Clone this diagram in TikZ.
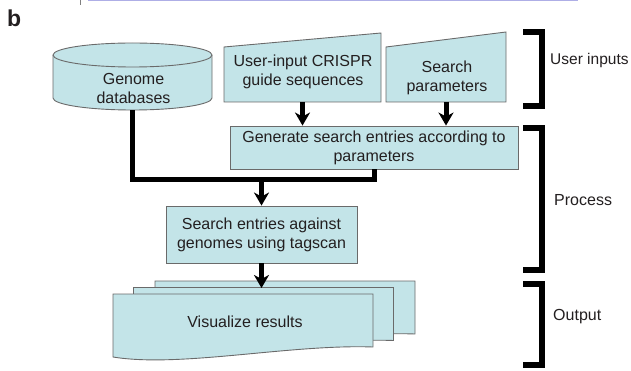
\documentclass[tikz,border=0pt]{standalone}
\usepackage{fontspec}
\setmainfont{Liberation Sans}
\usetikzlibrary{arrows.meta}
\definecolor{boxfill}{HTML}{C3E4E8}
\definecolor{boxline}{HTML}{6A6A6A}
\definecolor{txtc}{HTML}{231F20}
\definecolor{lav}{HTML}{AEAEE6}
\begin{document}
\begin{tikzpicture}[x=1pt,y=-1pt,
  box/.style={fill=boxfill, draw=boxline, line width=0.9pt},
  lbl/.style={font=\fontsize{16}{19}\selectfont, text=txtc, align=center, inner sep=0pt},
  conn/.style={line width=5pt, draw=black, line join=miter},
  arr/.style={conn, -{Stealth[length=13pt, width=15pt, inset=4pt]}},
  brk/.style={line width=6pt, draw=black, line join=miter}]
\useasboundingbox (0,0) rectangle (631,371);

% fragments of the panel above
\draw[gray, line width=1pt] (80,0) -- (80,5);
\draw[lav, line width=1.5pt] (88,0.5) -- (578,0.5);

% panel label
\node[anchor=base west, inner sep=0pt, font=\fontsize{23}{23}\selectfont\bfseries, text=txtc] (pl) at (7,26.7) {b};

% cylinder: Genome databases
\filldraw[box] (53,55) -- (53,98) arc[start angle=180, end angle=360, x radius=79.5pt, y radius=12pt]
  -- (212,55) arc[start angle=0, end angle=180, x radius=79.5pt, y radius=12pt] -- cycle;
\draw[draw=boxline, line width=0.9pt] (212,55) arc[start angle=0, end angle=-180, x radius=79.5pt, y radius=12pt];
\node[minimum width=159pt, minimum height=67pt, inner sep=0pt] (gdb) at (132.5,76.5) {};
\node[lbl] (gdbt) at (133.5,88) {Genome\\databases};

% manual inputs
\filldraw[box] (224,47) -- (381,33) -- (381,102) -- (224,102) -- cycle;
\node[lbl] (uin) at (303,71.4) {User-input CRISPR\\guide sequences};
\coordinate (uinB) at (302.5,102);
\filldraw[box] (386,47) -- (506,32) -- (506,102) -- (386,102) -- cycle;
\node[lbl] (spar) at (447,77.5) {Search\\parameters};
\coordinate (sparB) at (446,102);

% process boxes
\node[box, lbl, minimum width=288pt, minimum height=43pt] (gen) at (374,147.5) {Generate search entries according to\\parameters};
\node[box, lbl, minimum width=191pt, minimum height=57pt] (search) at (261.5,234.5) {Search entries against\\genomes using tagscan};

% stacked documents
\foreach \dx/\dy in {42/-13, 20.5/-6.5, 0/0} {
  \filldraw[box, shift={(\dx,\dy)}] (113,294) -- (373,294) -- (373,347)
    .. controls (290,344) and (180,368) .. (113,357) -- cycle;
}
\node[lbl] (vis) at (245,322) {Visualize results};
\coordinate (docTop) at (261.5,288);

% connectors
\coordinate (jl) at (132.5,180);
\coordinate (jr) at (374,180);
\draw[conn] (gdb.south) -- (jl) -- (jr) -- (gen.south);
\draw[arr] (uinB) -- (uinB |- gen.north);
\draw[arr] (sparB) -- (sparB |- gen.north);
\draw[arr] (search.north |- jl) -- (search.north);
\draw[arr] (search.south) -- (docTop);

% brackets
\draw[brk] (523,32) -- (541.5,32) -- (541.5,106) -- (523,106);
\draw[brk] (523,128) -- (541.5,128) -- (541.5,270) -- (523,270);
\draw[brk] (523,284) -- (541.5,284) -- (541.5,365) -- (523,365);
\node[lbl, anchor=west, font=\fontsize{15.5}{19}\selectfont] (lu) at (550,60) {User inputs};
\node[lbl, anchor=west] (lp) at (554,200) {Process};
\node[lbl, anchor=west] (lo) at (553,317) {Output};
\end{tikzpicture}
\end{document}
